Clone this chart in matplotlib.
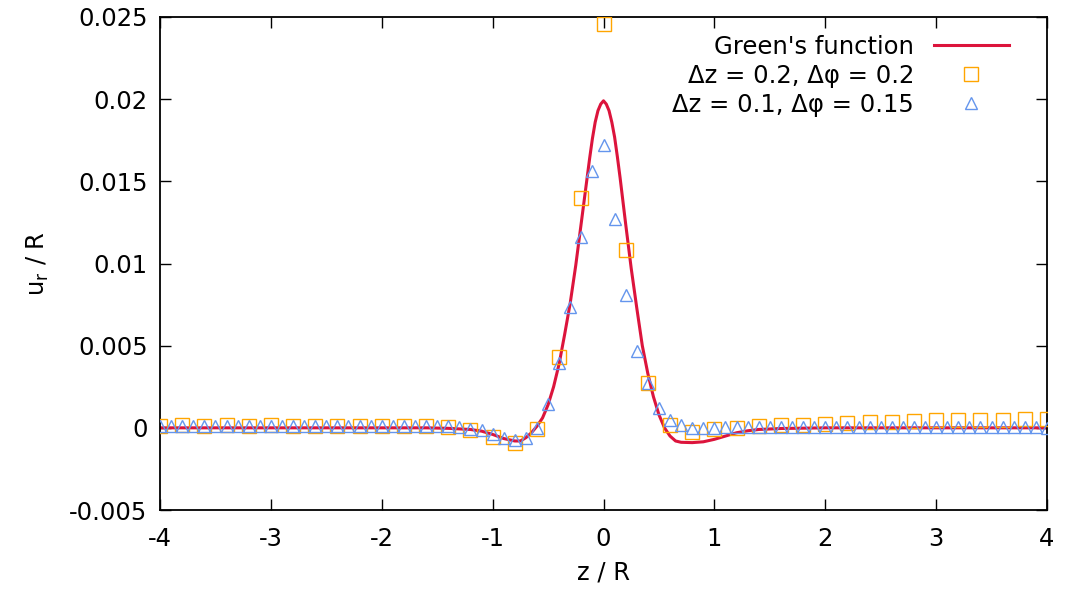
import matplotlib
matplotlib.use("Agg")
import matplotlib.pyplot as plt
import numpy as np

# Green's function curve
green_z = [-4.0, -3.0, -2.0, -1.6, -1.4, -1.2, -1.1, -1.0, -0.9, -0.8, -0.75, -0.7, -0.65,
           -0.6, -0.55, -0.5, -0.45, -0.4, -0.35, -0.3, -0.25, -0.2, -0.15, -0.125, -0.1,
           -0.075, -0.05, -0.025,
           0.0, 0.025, 0.05, 0.075, 0.1, 0.125, 0.15, 0.2, 0.25, 0.3, 0.35, 0.4, 0.45, 0.5,
           0.55, 0.6, 0.65,
           0.7, 0.8, 0.9, 1.0, 1.1, 1.2, 1.3, 1.4, 1.6, 2.0, 3.0, 4.0]
green_u = [0.0, 0.0, 0.0, 0.0, -0.00003, -0.0001, -0.0002, -0.0004, -0.00065, -0.0008, -0.0008,
           -0.0006, -0.0003, 0.0001, 0.0006, 0.0014, 0.0025, 0.0039, 0.0057, 0.0076, 0.0099,
           0.0125, 0.0151, 0.0164, 0.0176, 0.0186, 0.0193, 0.0197,
           0.0199, 0.0197, 0.0193, 0.0186, 0.0177, 0.0165, 0.0152, 0.0124, 0.0097,
           0.0073, 0.0050, 0.0033, 0.0019, 0.0008, 0.0000, -0.0005, -0.0008, -0.00088, -0.0009,
           -0.00085, -0.0007, -0.0005, -0.0003, -0.00018, -0.0001, -0.00004, 0.0, 0.0, 0.0]

# dz = 0.2, dphi = 0.2 (squares)
sq_z = [-4.0, -3.8, -3.6, -3.4, -3.2, -3.0, -2.8, -2.6, -2.4, -2.2, -2.0, -1.8, -1.6, -1.4,
        -1.2, -1.0, -0.8, -0.6, -0.4, -0.2, 0.0, 0.2, 0.4, 0.6, 0.8, 1.0, 1.2, 1.4, 1.6, 1.8,
        2.0, 2.2, 2.4, 2.6, 2.8, 3.0, 3.2, 3.4, 3.6, 3.8, 4.0]
sq_u = [0.0001, 0.00015, 0.0001, 0.00015, 0.0001, 0.00015, 0.0001, 0.00012, 0.0001, 0.0001,
        0.0001, 0.0001, 0.0001, 0.00005, -0.00016, -0.00055, -0.0009, -0.0001, 0.0043, 0.0140,
        0.0246, 0.0108, 0.0027, 0.0002, -0.00023, -0.0001, 0.0, 0.0001, 0.00015, 0.0002,
        0.00025, 0.0003, 0.00033, 0.00037, 0.0004, 0.00045, 0.00047, 0.0005, 0.0005, 0.00052,
        0.00052]

# dz = 0.1, dphi = 0.15 (triangles)
tri_z = [-4.0, -3.9, -3.8, -3.7, -3.6, -3.5, -3.4, -3.3, -3.2, -3.1, -3.0, -2.9, -2.8, -2.7,
         -2.6, -2.5, -2.4, -2.3, -2.2, -2.1, -2.0, -1.9, -1.8, -1.7, -1.6, -1.5, -1.4, -1.3,
         -1.2, -1.1, -1.0, -0.9, -0.8, -0.7, -0.6, -0.5, -0.4, -0.3, -0.2, -0.1, 0.0, 0.1,
         0.2, 0.3, 0.4, 0.5, 0.6, 0.7, 0.8, 0.9, 1.0, 1.1, 1.2, 1.3, 1.4, 1.5, 1.6, 1.7, 1.8,
         1.9, 2.0, 2.1, 2.2, 2.3, 2.4, 2.5, 2.6, 2.7, 2.8, 2.9, 3.0, 3.1, 3.2, 3.3, 3.4, 3.5,
         3.6, 3.7, 3.8, 3.9, 4.0]
tri_u = [0.0001] * 27 + [0.00005,
         -0.00005, -0.00016, -0.0004, -0.0006, -0.00073, -0.0006, 0.0, 0.00148, 0.00395,
         0.00736, 0.0116, 0.0156, 0.0172, 0.0127, 0.0081, 0.0047, 0.0027, 0.0012, 0.0005,
         0.00017, 0.0, -0.00003, 0.0] + [0.00006] * 29 + [0.00002]

x_ticks = [-4, -3, -2, -1, 0, 1, 2, 3, 4]
y_ticks = [-0.005, 0, 0.005, 0.01, 0.015, 0.02, 0.025]
y_ticklabels = ["-0.005", "0", "0.005", "0.01", "0.015", "0.02", "0.025"]

plt.rcParams['font.family'] = ['DejaVu Sans']
FS = 17.5

fig = plt.figure(figsize=(10.65, 6.0), dpi=100)
ax = fig.add_axes([160 / 1065, 1 - 510 / 600, (1047 - 160) / 1065, (510 - 17) / 600])

ax.plot(green_z, green_u, color='#dc143c', lw=2.2, label="Green's function", zorder=2)
ax.plot(sq_z, sq_u, ls='none', marker='s', ms=9.5, mfc='none', mec='#ffa500', mew=1.0,
        label='Δz = 0.2, Δφ = 0.2', zorder=3)
ax.plot(tri_z, tri_u, ls='none', marker='^', ms=9, mfc='none', mec='#6495ed', mew=1.0,
        label='Δz = 0.1, Δφ = 0.15', zorder=3)

ax.set_xlim(-4, 4)
ax.set_ylim(-0.005, 0.025)
ax.set_xticks(x_ticks)
ax.set_xticklabels([str(t) for t in x_ticks])
ax.set_yticks(y_ticks)
ax.set_yticklabels(y_ticklabels)
ax.tick_params(direction='in', length=8, width=1.0, top=True, right=True,
               labelsize=FS, colors='black')
ax.tick_params(axis='x', pad=12)
ax.tick_params(axis='y', pad=9)
for s in ax.spines.values():
    s.set_linewidth(1.3)

ax.set_xlabel('z / R', fontsize=FS, labelpad=7)
ax.set_ylabel('u$_\\mathregular{r}$ / R', fontsize=FS, labelpad=13)

leg = ax.legend(loc='upper right', bbox_to_anchor=(0.968, 0.984), frameon=False,
                fontsize=FS, markerfirst=False, handlelength=3.1, handletextpad=0.8,
                labelspacing=0.21, borderaxespad=0.0)

fig.savefig('out.png', dpi=100)
